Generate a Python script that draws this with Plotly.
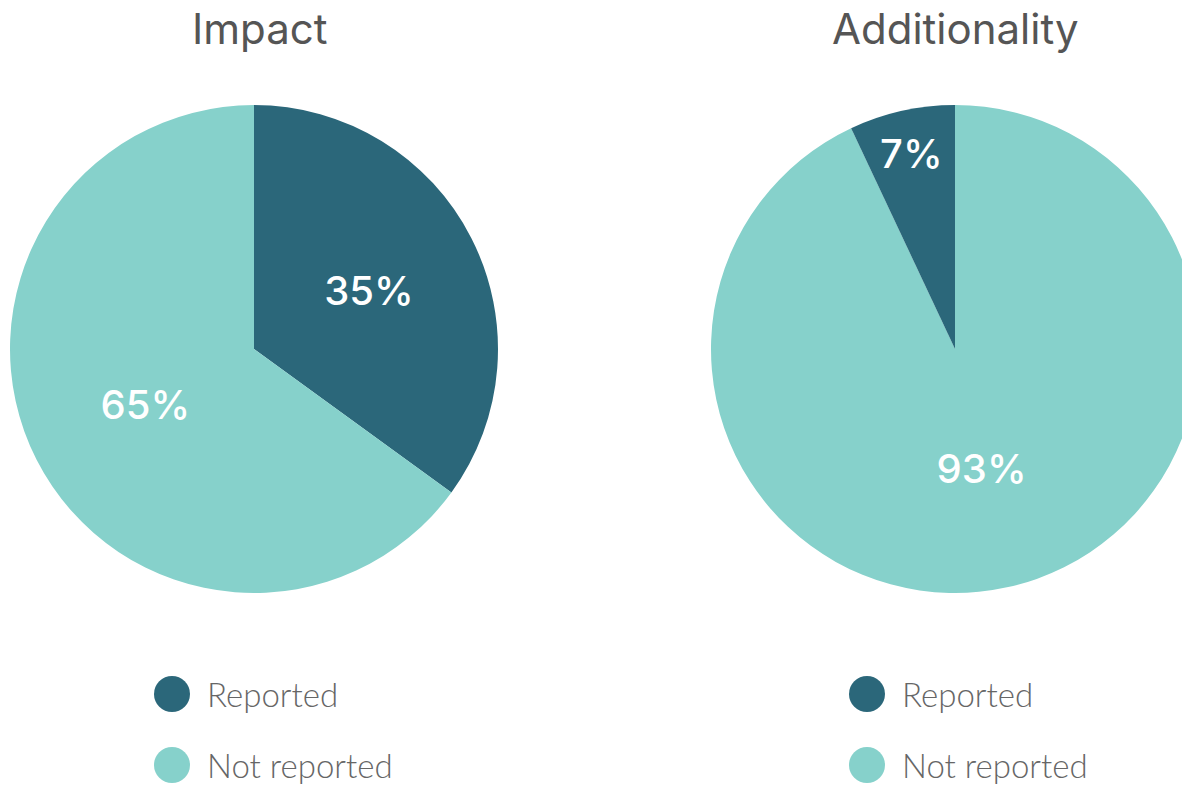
import plotly.graph_objects as go

categories = ["Reported", "Not reported"]
impact_values = [35, 65]
additionality_values = [7, 93]
chart_titles = ["Impact", "Additionality"]
colors = ["#2b677a", "#86d1cb"]

W, H = 1200, 777
OFF = 8  # page body margin


def px(x):
    # page pixel -> paper x
    return (x - OFF) / W


def py(y):
    return 1 - (y - OFF) / H


fig = go.Figure()

# Impact: reported slice runs clockwise from 12 o'clock
fig.add_trace(go.Pie(
    labels=categories,
    values=impact_values,
    domain=dict(x=[px(10), px(498)], y=[py(593), py(105)]),
    marker=dict(colors=colors, line=dict(width=0)),
))
# Additionality: reported slice sits just left of 12 o'clock
fig.add_trace(go.Pie(
    labels=categories[::-1],
    values=additionality_values[::-1],
    domain=dict(x=[px(711), px(1199)], y=[py(593), py(105)]),
    marker=dict(colors=colors[::-1], line=dict(width=0)),
))

fig.update_traces(
    sort=False,
    direction="clockwise",
    rotation=0,
    texttemplate="%{percent:.0%}",
    textposition="inside",
    insidetextorientation="horizontal",
    textfont=dict(family="Inter", size=40, color="white", weight=500),
    hoverinfo="label+percent",
    showlegend=False,
)

# titles above each pie
title_x = [260, 955]
for t, cx in zip(chart_titles, title_x):
    fig.add_annotation(
        text=t, x=px(cx), y=py(28), xref="paper", yref="paper",
        xanchor="center", yanchor="middle", showarrow=False,
        font=dict(family="Inter", size=42, color="#555555"),
    )

# legends (circle + label) under each pie
legend_x = [172, 867]
legend_y = [694, 765]
r = 18
for lx in legend_x:
    for cat, col, ly in zip(categories, colors, legend_y):
        fig.add_shape(
            type="circle", xref="paper", yref="paper",
            x0=px(lx - r), x1=px(lx + r), y0=py(ly + r), y1=py(ly - r),
            fillcolor=col, line=dict(width=0),
        )
        fig.add_annotation(
            text=cat, x=px(lx + 33), y=py(ly), xref="paper", yref="paper",
            xanchor="left", yanchor="middle", showarrow=False,
            font=dict(family="Lato", size=33, color="#666666", weight=300),
        )

fig.update_layout(
    width=W, height=H,
    margin=dict(l=0, r=0, t=0, b=0),
    paper_bgcolor="white",
    plot_bgcolor="white",
)

fig.write_html("out.html")
